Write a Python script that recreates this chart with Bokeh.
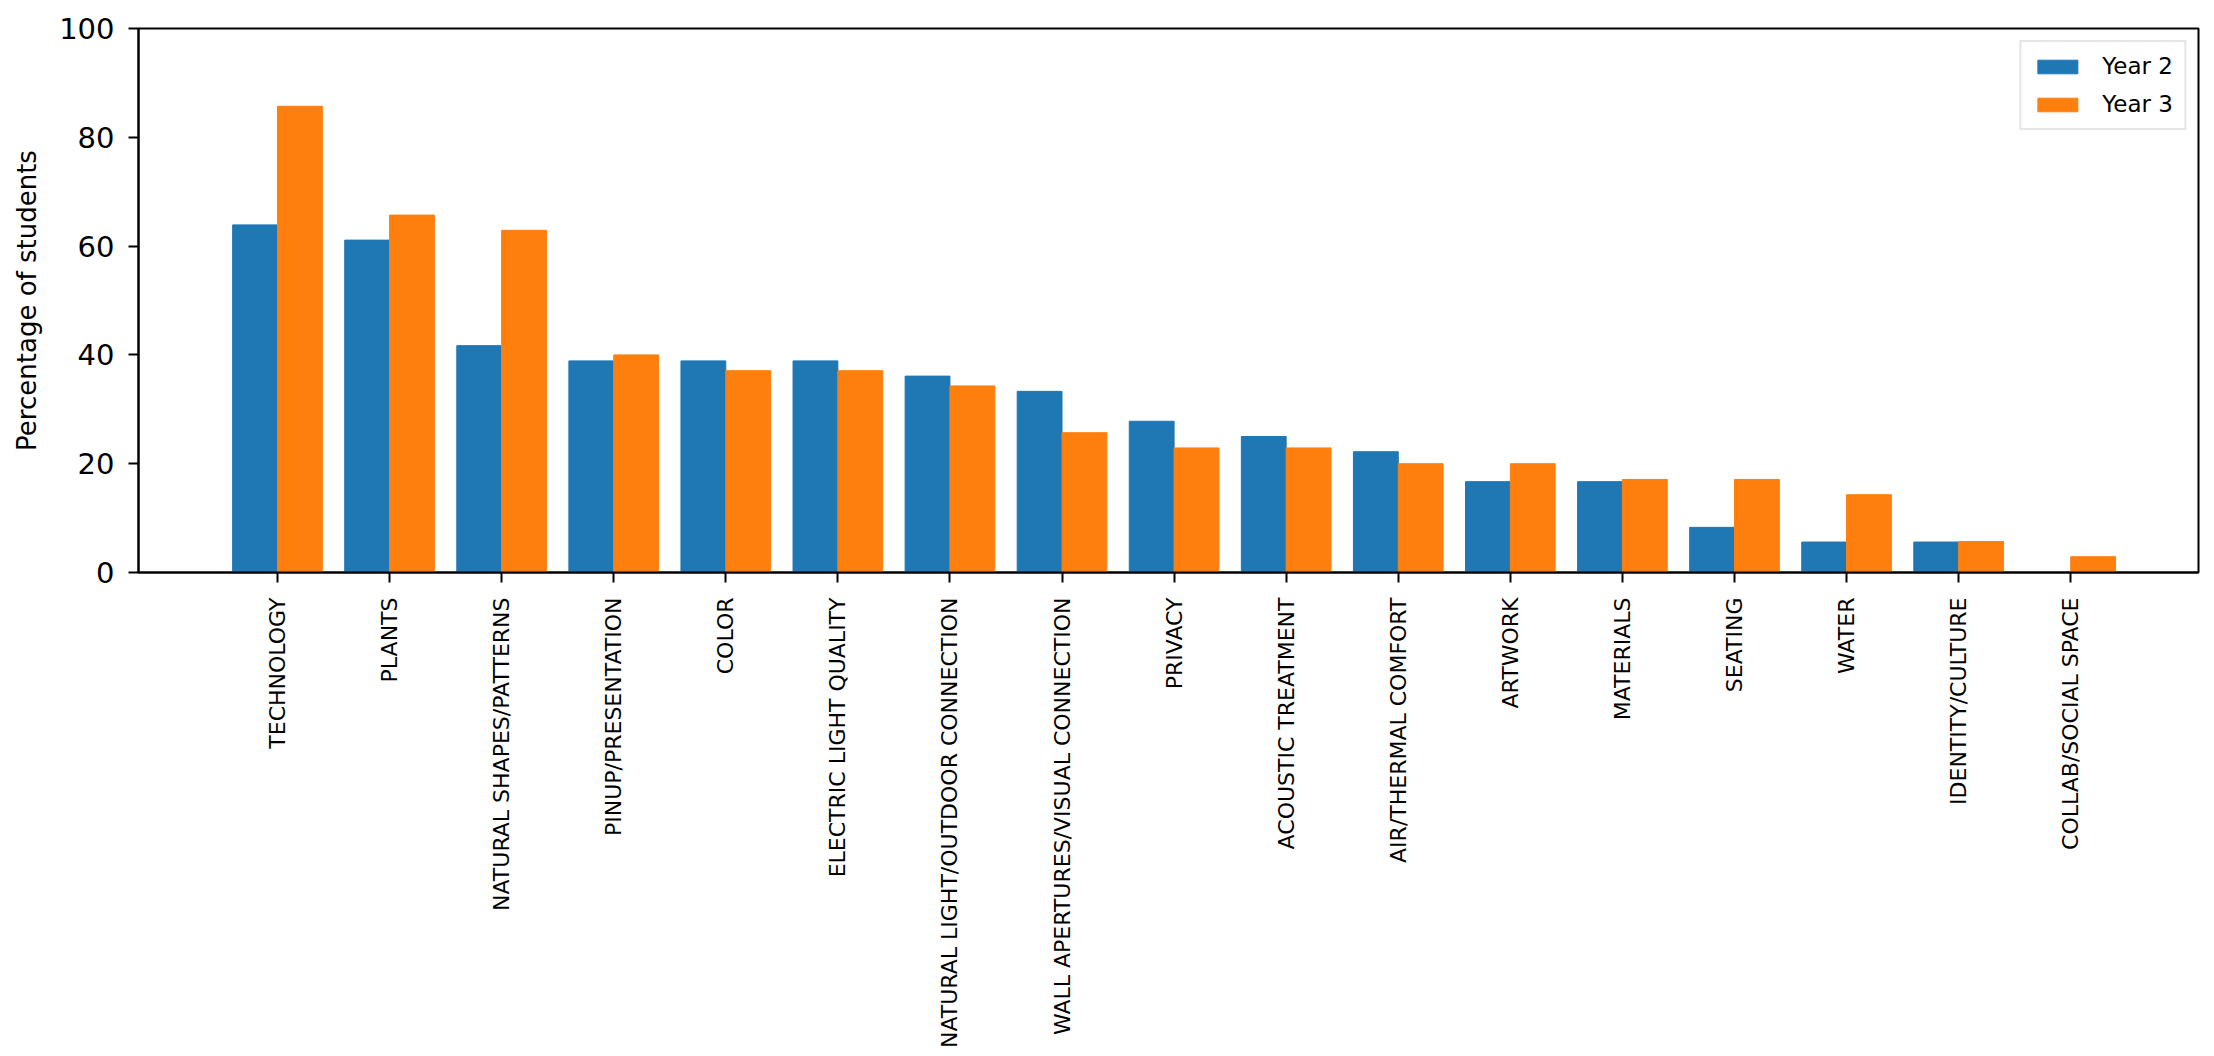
import numpy as np
from bokeh.plotting import figure
from bokeh.models import ColumnDataSource, FixedTicker, Range1d
from bokeh.transform import dodge
from bokeh.embed import file_html
from bokeh.resources import INLINE

FONT = "DejaVu Sans"

categories = [
    "TECHNOLOGY", "PLANTS", "NATURAL SHAPES/PATTERNS", "PINUP/PRESENTATION",
    "COLOR", "ELECTRIC LIGHT QUALITY", "NATURAL LIGHT/OUTDOOR CONNECTION",
    "WALL APERTURES/VISUAL CONNECTION", "PRIVACY", "ACOUSTIC TREATMENT",
    "AIR/THERMAL COMFORT", "ARTWORK", "MATERIALS", "SEATING", "WATER",
    "IDENTITY/CULTURE", "COLLAB/SOCIAL SPACE",
]
year2 = [63.9, 61.1, 41.7, 38.9, 38.9, 38.9, 36.1, 33.3, 27.8, 25.0,
         22.2, 16.7, 16.7, 8.3, 5.6, 5.6, 0.0]
year3 = [85.7, 65.7, 62.9, 40.0, 37.1, 37.1, 34.3, 25.7, 22.9, 22.9,
         20.0, 20.0, 17.1, 17.1, 14.3, 5.7, 2.9]
y_ticks = [0, 20, 40, 60, 80, 100]

idx = list(range(len(categories)))
source = ColumnDataSource(data=dict(x=idx, year2=year2, year3=year3))

p = figure(width=2200, height=1052,
           x_range=Range1d(-1.24, 17.14), y_range=Range1d(0, 100),
           output_backend="svg", toolbar_location=None,
           min_border_left=138, min_border_right=2,
           min_border_top=28, min_border_bottom=480)

p.vbar(x=dodge("x", -0.2, range=p.x_range), top="year2", width=0.4,
       source=source, color="#1f77b4", legend_label="Year 2")
p.vbar(x=dodge("x", 0.2, range=p.x_range), top="year3", width=0.4,
       source=source, color="#ff7f0e", legend_label="Year 3")

p.grid.visible = False
p.outline_line_color = "black"
p.outline_line_width = 2
p.outline_line_alpha = 1

p.xaxis.ticker = FixedTicker(ticks=idx)
p.xaxis.major_label_overrides = {i: c for i, c in zip(idx, categories)}
p.xaxis.major_label_orientation = np.pi / 2
p.yaxis.ticker = FixedTicker(ticks=y_ticks)
p.yaxis.axis_label = "Percentage of students"

for ax in (p.xaxis, p.yaxis):
    ax.axis_line_width = 2
    ax.axis_line_color = "black"
    ax.major_tick_line_width = 2
    ax.major_tick_line_color = "black"
    ax.major_tick_out = 10
    ax.major_tick_in = 0
    ax.minor_tick_line_color = None
    ax.major_label_text_font = FONT
    ax.major_label_text_color = "black"

p.xaxis.major_label_standoff = 15
p.yaxis.major_label_standoff = 14
p.xaxis.major_label_text_font_size = "22px"
p.yaxis.major_label_text_font_size = "29px"
p.yaxis.axis_label_text_font = FONT
p.yaxis.axis_label_text_font_size = "26px"
p.yaxis.axis_label_text_font_style = "normal"
p.yaxis.axis_label_text_color = "black"
p.yaxis.axis_label_standoff = 14

p.legend.location = "top_right"
p.legend.margin = 12
p.legend.padding = 11
p.legend.border_line_color = "#cccccc"
p.legend.border_line_width = 2
p.legend.label_text_font = FONT
p.legend.label_text_font_size = "23px"
p.legend.label_text_color = "black"
p.legend.glyph_width = 50
p.legend.glyph_height = 17
p.legend.label_standoff = 20
p.legend.label_height = 25
p.legend.spacing = 12

open("out.html", "w").write(file_html(p, INLINE))
